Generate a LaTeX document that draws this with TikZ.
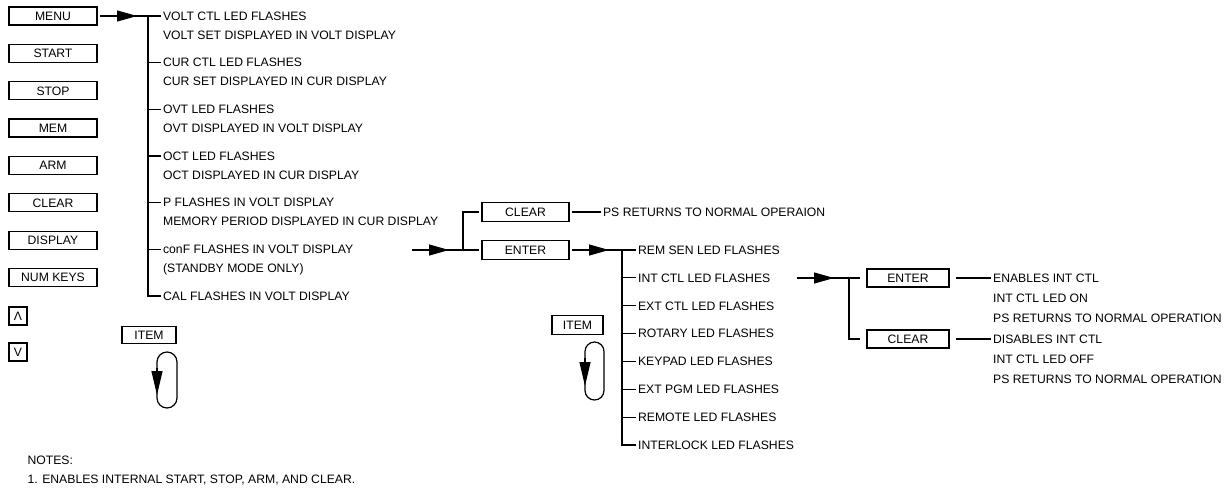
\documentclass[tikz,border=0pt]{standalone}
\usepackage{fontspec}
\setmainfont{Liberation Sans}
\usetikzlibrary{arrows.meta,decorations.markings}
\tikzset{
    key/.style={draw, minimum width=88pt, minimum height=18pt, inner sep=0pt, outer sep=3pt,
        text height=8.6pt, text depth=0pt},
    txt/.style={anchor=west, inner xsep=1.5pt, inner ysep=0pt, text height=8.6pt, text depth=0pt},
    midarrow/.style={postaction={decorate}, decoration={markings,
        mark=at position 37pt with {\arrow{Triangle[length=20pt,width=11pt]}}}},
}
\begin{document}
\begin{tikzpicture}[x=1pt, y=-1pt, line width=1.2pt, font=\fontsize{12.2pt}{14pt}\selectfont]
    \useasboundingbox (0,0) rectangle (1230,488);
    % keys on the left
    \foreach \n/\t [count=\i from 0] in {menu/MENU, start/START, stop/STOP, mem/MEM,
        arm/ARM, clear/CLEAR, display/DISPLAY, numkeys/NUM KEYS}
    {
        \node[key] (\n) at (53,{16+37.36*\i}) {\t};
    }
    \node[key, minimum width=18pt] (up) at (18,316) {Λ};
    \node[key, minimum width=18pt] (down) at (18,352) {V};
    % menu items
    \foreach \n/\a/\b [count=\i from 0] in {voltctl/VOLT CTL LED FLASHES/VOLT SET DISPLAYED IN VOLT DISPLAY,
        curctl/CUR CTL LED FLASHES/CUR SET DISPLAYED IN CUR DISPLAY,
        ovt/OVT LED FLASHES/OVT DISPLAYED IN VOLT DISPLAY,
        oct/OCT LED FLASHES/OCT DISPLAYED IN CUR DISPLAY,
        pfl/P FLASHES IN VOLT DISPLAY/MEMORY PERIOD DISPLAYED IN CUR DISPLAY,
        conf/conF FLASHES IN VOLT DISPLAY/(STANDBY MODE ONLY)}
    {
        \node[txt] (\n) at (161,{16+46.67*\i}) {\a};
        \node[txt] (\n2) at (161,{35+46.67*\i}) {\b};
    }
    \node[txt] (cal) at (161,296) {CAL FLASHES IN VOLT DISPLAY};
    \coordinate (t1) at (148,16);
    \draw[midarrow] (menu.east) -- (t1);
    \draw (t1) |- (cal.west);
    \foreach \n in {voltctl,curctl,ovt,oct,pfl,conf}
        \draw (t1 |- \n.west) -- (\n.west);
    \node[key, minimum width=54pt, minimum height=17pt] (item1) at (149,335) {ITEM};
    \draw[rounded corners=10pt] (157,352) rectangle (177,408);
    \draw[-{Triangle[length=24pt,width=11pt]}] (157,368) -- (157,395);
    % conF branch
    \coordinate (a2) at (412,250);
    \coordinate (t2) at (463,250);
    \node[key, minimum width=87pt, minimum height=19pt] (clear1) at (525.5,212) {CLEAR};
    \node[key, minimum width=87pt, minimum height=19pt] (enter1) at (525.5,250) {ENTER};
    \node[txt] (normal) at (601,212) {PS RETURNS TO NORMAL OPERAION};
    \draw[midarrow] (a2) -- (t2);
    \draw (t2) |- (clear1.west);
    \draw (t2) -- (enter1.west);
    \draw (clear1.east) -- (normal.west);
    % enter items
    \foreach \n/\t [count=\i from 0] in {remsen/REM SEN LED FLASHES, intctl/INT CTL LED FLASHES,
        extctl/EXT CTL LED FLASHES, rotary/ROTARY LED FLASHES, keypad/KEYPAD LED FLASHES,
        extpgm/EXT PGM LED FLASHES, remote/REMOTE LED FLASHES, interlock/INTERLOCK LED FLASHES}
    {
        \node[txt] (\n) at (636,{250+27.86*\i}) {\t};
    }
    \coordinate (t3) at (622,250);
    \draw[midarrow] (enter1.east) -- (t3);
    \draw (t3) |- (interlock.west);
    \foreach \n in {remsen,intctl,extctl,rotary,keypad,extpgm,remote}
        \draw (t3 |- \n.west) -- (\n.west);
    \node[key, minimum width=51pt, minimum height=19pt] (item2) at (577.5,325) {ITEM};
    \draw[rounded corners=9.5pt] (585,342) rectangle (604,400);
    \draw[-{Triangle[length=24pt,width=11pt]}] (585,358) -- (585,386);
    % int ctl branch
    \coordinate (a4) at (797,278);
    \coordinate (t4) at (849,278);
    \node[key, minimum width=82pt, outer sep=7pt] (enter2) at (908,278) {ENTER};
    \node[key, minimum width=82pt, outer sep=7pt] (clear2) at (908,339) {CLEAR};
    \node[txt] (enables) at (991,278) {ENABLES INT CTL};
    \node[txt] (ledon) at (991,298) {INT CTL LED ON};
    \node[txt] (psret1) at (991,318) {PS RETURNS TO NORMAL OPERATION};
    \node[txt] (disables) at (991,339) {DISABLES INT CTL};
    \node[txt] (ledoff) at (991,359) {INT CTL LED OFF};
    \node[txt] (psret2) at (991,379) {PS RETURNS TO NORMAL OPERATION};
    \draw[midarrow] (a4) -- (t4);
    \draw (t4) -- (enter2.west);
    \draw (t4) |- (clear2.west);
    \draw (enter2.east) -- (enables.west);
    \draw (clear2.east) -- (disables.west);
    % notes
    \node[txt] (notes) at (25.5,460) {NOTES:};
    \node[txt] (note1) at (25.5,479) {1. ENABLES INTERNAL START, STOP, ARM, AND CLEAR.};
\end{tikzpicture}
\end{document}
